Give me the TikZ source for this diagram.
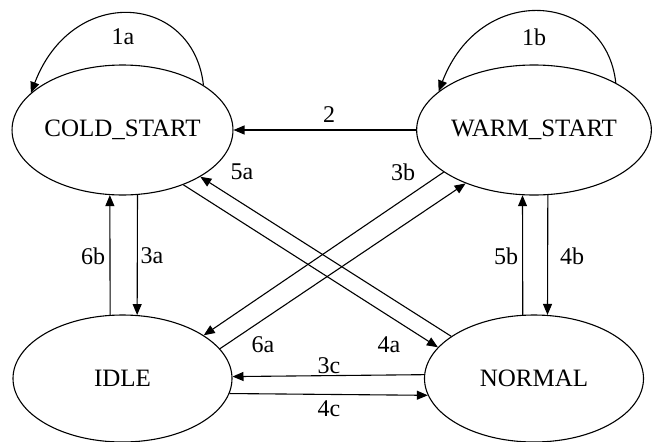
\documentclass[tikz,border=0pt]{standalone}
\usepackage{fontspec}
\setmainfont{Liberation Serif}
\usetikzlibrary{shapes.geometric,arrows.meta}
\begin{document}
\begin{tikzpicture}[x=1pt,y=-1pt,
  state/.style={draw,ellipse,line width=1.1pt,inner sep=0pt,
    minimum width=219pt,font=\fontsize{25}{30}\selectfont},
  topstate/.style={state,minimum height=130pt},
  botstate/.style={state,minimum height=127pt},
  edge/.style={draw,line width=1.1pt,-{Triangle[length=11pt,width=9pt]}},
  lbl/.style={font=\fontsize{24}{28}\selectfont,inner sep=0pt}]
\useasboundingbox (0,0) rectangle (654,442);

% states
\node[topstate] (cold)   at (122.5,130)  {COLD\_START};
\node[topstate] (warm)   at (534,130)    {WARM\_START};
\node[botstate] (idle)   at (122.5,378.5) {IDLE};
\node[botstate] (normal) at (534,378.5)  {NORMAL};

% self loops
\draw[edge] (cold.29.6) .. controls +(-10,-91) and +(42,-110) .. (cold.158.6);
\draw[edge] (warm.30.1) .. controls +(-10,-91) and +(42,-110) .. (warm.158.5);
\node[lbl] (l1a) at (123,37) {1a};
\node[lbl] (l1b) at (534,37) {1b};

% top row
\draw[edge] (warm.180) -- (cold.0);
\node[lbl] (l2) at (329,115) {2};

% left column
\draw[edge] (cold.-77.3) -- (idle.77.0);
\draw[edge] (idle.101.2) -- (cold.-101.0);
\node[lbl] (l3a) at (152,256) {3a};
\node[lbl] (l6b) at (93,256) {6b};

% right column
\draw[edge] (warm.-78.6) -- (normal.78.4);
\draw[edge] (normal.100.8) -- (warm.-100.5);
\node[lbl] (l4b) at (572,256) {4b};
\node[lbl] (l5b) at (506,256) {5b};

% bottom row
\draw[edge] (normal.178.7) -- (idle.1.3);
\draw[edge] (idle.-8.3) -- (normal.-171.7);
\node[lbl] (l3c) at (329,366) {3c};
\node[lbl] (l4c) at (329,409) {4c};

% diagonals
\draw[edge] (normal.153.7) -- (cold.-31.8);
\draw[edge] (cold.-42.75) -- (normal.162.2);
\draw[edge] (idle.17.7) -- (warm.-142.5);
\draw[edge] (warm.-155.8) -- (idle.28.3);
\node[lbl] (l5a) at (242,172) {5a};
\node[lbl] (l4a) at (389,345) {4a};
\node[lbl] (l3b) at (403,172) {3b};
\node[lbl] (l6a) at (263,345) {6a};
\end{tikzpicture}
\end{document}
